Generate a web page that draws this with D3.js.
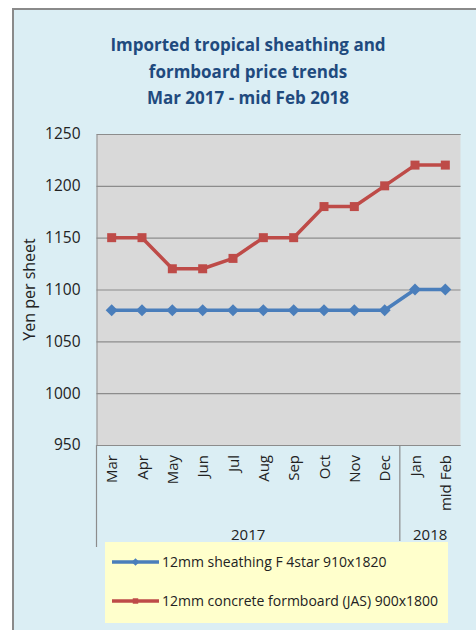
<!DOCTYPE html>
<html>
<head>
<meta charset="utf-8">
<script src="https://cdnjs.cloudflare.com/ajax/libs/d3/7.8.5/d3.min.js"></script>
<style>
  html, body { margin: 0; padding: 0; background: #fff; }
  svg { display: block; font-family: "Open Sans", "Noto Sans", sans-serif; }
</style>
</head>
<body>
<div id="chart"></div>
<script>
// Chart data
const months = ["Mar", "Apr", "May", "Jun", "Jul", "Aug", "Sep", "Oct", "Nov", "Dec", "Jan", "mid Feb"];
const years = [{ label: "2017", from: 0, to: 10 }, { label: "2018", from: 10, to: 12 }];
const sheathing = [1080, 1080, 1080, 1080, 1080, 1080, 1080, 1080, 1080, 1080, 1100, 1100];
const formboard = [1150, 1150, 1120, 1120, 1130, 1150, 1150, 1180, 1180, 1200, 1220, 1220];
const yTicks = [950, 1000, 1050, 1100, 1150, 1200, 1250];
const titleLines = ["Imported tropical sheathing and", "formboard price trends", "Mar 2017 - mid Feb 2018"];

const series = [
    { name: "12mm sheathing F 4star 910x1820", values: sheathing, color: "#4a7ebb", marker: "diamond" },
    { name: "12mm concrete formboard (JAS) 900x1800", values: formboard, color: "#be4b48", marker: "square" }
];

const W = 476, H = 630;
const plot = { left: 96.5, right: 460.5, top: 134, bottom: 445 };

const svg = d3.select("#chart").append("svg").attr("width", W).attr("height", H);

// Outer panel
svg.append("rect").attr("x", 13).attr("y", 9).attr("width", W).attr("height", H)
    .attr("fill", "#dbeef4").attr("stroke", "#8a8a8a").attr("stroke-width", 2);

// Title
svg.append("g").selectAll("text").data(titleLines).enter().append("text")
    .attr("x", 248).attr("y", (d, i) => 51 + i * 26.5)
    .attr("text-anchor", "middle")
    .attr("fill", "#1f4a7e").attr("font-weight", "bold").attr("font-size", 17)
    .text(d => d);

// Scales
const x = d3.scaleBand().domain(months).range([plot.left, plot.right]);
const y = d3.scaleLinear().domain([950, 1250]).range([plot.bottom, plot.top]);
const cx = d => x(d) + x.bandwidth() / 2;

// Plot background
svg.append("rect").attr("x", plot.left).attr("y", plot.top)
    .attr("width", plot.right - plot.left).attr("height", plot.bottom - plot.top)
    .attr("fill", "#d9d9d9");

// Grid lines + y labels
const yAxis = d3.axisLeft(y).tickValues(yTicks).tickFormat(d3.format("d"))
    .tickSize(-(plot.right - plot.left)).tickPadding(16);
const gy = svg.append("g").attr("transform", `translate(${plot.left},0)`).call(yAxis);
gy.select(".domain").attr("stroke", "#8c8c8c");
gy.selectAll(".tick line").attr("stroke", "#8c8c8c").attr("stroke-width", 1.2);
gy.selectAll(".tick text").attr("font-size", 15.5).attr("fill", "#222")
    .attr("font-family", "Open Sans, sans-serif");

svg.append("text")
    .attr("transform", `translate(35,${(plot.top + plot.bottom) / 2}) rotate(-90)`)
    .attr("text-anchor", "middle").attr("font-size", 16).attr("fill", "#222")
    .text("Yen per sheet");

// Category axis with group separators
svg.append("g").selectAll("line").data(years).enter().append("line")
    .attr("x1", d => plot.left + d.from * x.step()).attr("x2", d => plot.left + d.from * x.step())
    .attr("y1", plot.bottom).attr("y2", (d, i) => i === 0 ? 547 : 541)
    .attr("stroke", "#8c8c8c").attr("stroke-width", 1.2);

svg.append("g").selectAll("text").data(months).enter().append("text")
    .attr("transform", d => `translate(${cx(d) + 5.5},455) rotate(-90)`)
    .attr("text-anchor", "end").attr("font-size", 15).attr("fill", "#222")
    .text(d => d);

svg.append("g").selectAll("text").data(years).enter().append("text")
    .attr("x", d => plot.left + (d.from + d.to) / 2 * x.step())
    .attr("y", 540).attr("text-anchor", "middle").attr("font-size", 15).attr("fill", "#222")
    .text(d => d.label);

// Lines and markers (diamond = square turned 45 degrees)
const line = d3.line().x((d, i) => cx(months[i])).y(d => y(d));
const markerPath = (kind, size) => d3.symbol().type(d3.symbolSquare).size(size)();

series.forEach(s => {
    svg.append("path").datum(s.values)
        .attr("d", line).attr("fill", "none")
        .attr("stroke", s.color).attr("stroke-width", 3.5).attr("stroke-linejoin", "round");
    svg.append("g").selectAll("path").data(s.values).enter().append("path")
        .attr("transform", (d, i) => `translate(${cx(months[i])},${y(d)})` + (s.marker === "diamond" ? " rotate(45)" : ""))
        .attr("d", markerPath(s.marker, s.marker === "diamond" ? 72 : 81))
        .attr("fill", s.color);
});

// Legend
const legend = svg.append("g");
legend.append("rect").attr("x", 105).attr("y", 542).attr("width", 343).attr("height", 81)
    .attr("fill", "#ffffcc");
series.forEach((s, i) => {
    const ly = 562 + i * 39;
    legend.append("line").attr("x1", 112).attr("x2", 159).attr("y1", ly).attr("y2", ly)
        .attr("stroke", s.color).attr("stroke-width", 3.5);
    legend.append("path").attr("transform", `translate(135.5,${ly})` + (s.marker === "diamond" ? " rotate(45)" : ""))
        .attr("d", markerPath(s.marker, 30))
        .attr("fill", s.color);
    legend.append("text").attr("x", 162).attr("y", ly + 5).attr("font-size", 14).attr("fill", "#222")
        .text(s.name);
});
</script>
</body>
</html>
